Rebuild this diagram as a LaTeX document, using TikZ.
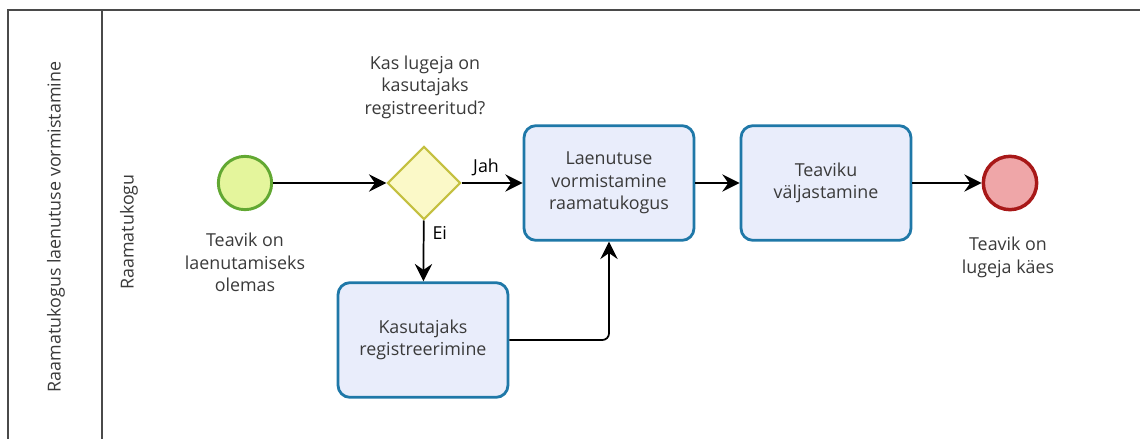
\documentclass[tikz,border=0pt]{standalone}
\usepackage{fontspec}
\setmainfont{Open Sans}
\usetikzlibrary{arrows.meta,shapes.geometric}
\definecolor{txt}{HTML}{3A3A3A}
\definecolor{poolline}{HTML}{4A4A4A}
\definecolor{taskline}{HTML}{1F78A8}
\definecolor{taskfill}{HTML}{E9EDFB}
\definecolor{startline}{HTML}{62A832}
\definecolor{startfill}{HTML}{E4F59C}
\definecolor{gateline}{HTML}{C4C040}
\definecolor{gatefill}{HTML}{FBF9C8}
\definecolor{endline}{HTML}{A81818}
\definecolor{endfill}{HTML}{EFA6A8}
\begin{document}
\begin{tikzpicture}[x=0.75pt,y=-0.75pt,
  font=\fontsize{13.4}{16.9}\selectfont, text=txt,
  task/.style={draw=taskline, fill=taskfill, line width=2.1pt, rounded corners=9pt,
    minimum width=127.5pt, minimum height=86pt, align=center, inner sep=0pt},
  startev/.style={circle, draw=startline, fill=startfill, line width=2.2pt, minimum size=40pt, inner sep=0pt},
  endev/.style={circle, draw=endline, fill=endfill, line width=2.6pt, minimum size=40pt, inner sep=0pt},
  gateway/.style={diamond, draw=gateline, fill=gatefill, line width=1.6pt, minimum width=55pt, minimum height=55pt, inner sep=0pt},
  lbl/.style={align=center, inner sep=0pt},
  flow/.style={-{Stealth[length=13pt,width=13pt,inset=4.5pt]}, line width=1.3pt, black},
  pool/.style={draw=poolline, line width=0.9pt}]
\useasboundingbox (0,0) rectangle (1140,439);

% pool and lane frame
\draw[pool] (8,439) -- (8,10) -- (1140,10);
\draw[pool] (102,10) -- (102,439);
\node[lbl, rotate=90] (poolname) at (56,227) {Raamatukogus laenutuse vormistamine};
\node[lbl, rotate=90] (lanename) at (129,232) {Raamatukogu};

% events and gateway
\node[startev] (start) at (245,183) {};
\node[lbl, anchor=north] (startlbl) at (245,233) {Teavik on\\laenutamiseks\\olemas};
\node[gateway] (gw) at (424,183) {};
\node[lbl, anchor=south] (gwlbl) at (425,119) {Kas lugeja on\\kasutajaks\\registreeritud?};
\node[endev] (end) at (1010,183) {};
\node[lbl, anchor=north] (endlbl) at (1008,237) {Teavik on\\lugeja käes};

% tasks
\node[task] (t1) at (609,183) {Laenutuse\\vormistamine\\raamatukogus};
\node[task] (t2) at (826,183) {Teaviku\\väljastamine};
\node[task] (t3) at (423,340) {Kasutajaks\\registreerimine};

% sequence flows
\draw[flow] (start) -- (gw);
\draw[flow] (gw) -- node[lbl, pos=0.4, above=5pt] (jah) {Jah} (t1);
\draw[flow] (gw) -- node[lbl, pos=0.2, right=6pt] (ei) {Ei} (t3);
\draw[flow, rounded corners=5pt] (t3.east) -- (t3.east -| t1.south) -- (t1.south);
\draw[flow] (t1) -- (t2);
\draw[flow] (t2) -- (end);
\end{tikzpicture}
\end{document}
